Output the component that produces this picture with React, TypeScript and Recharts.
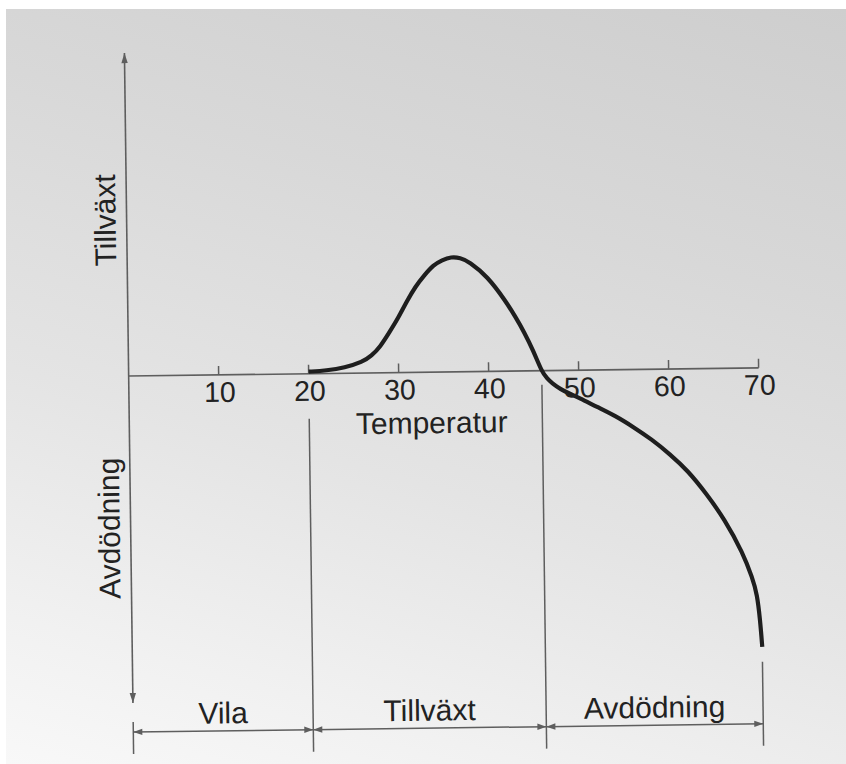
import React from 'react';
import { LineChart, Line, XAxis, YAxis, ReferenceLine, ReferenceDot } from 'recharts';

// ---- data (x: temperature, y: relative growth (+) / die-off (-)) ----
const temperatures = [20, 22, 24, 26, 27, 28, 29, 30, 31, 32, 33, 34, 35, 36, 37, 38, 40, 42, 43, 44, 45, 45.9, 46.5, 47, 48, 49, 50, 52, 54, 56, 58, 60, 62, 64, 66, 68, 69, 69.5, 69.8, 70];
const responses = [2, 3, 5.5, 11, 17, 26, 40, 54, 71, 86, 97, 107, 112, 115, 114, 110, 95, 70, 55, 39, 20, -1, -8, -12.5, -19, -23.5, -27.5, -37, -46, -57.5, -70, -85, -102, -125, -151, -185, -210, -226, -252, -279];

const tickValues = [10, 20, 30, 40, 50, 60, 70];
const tickLabels = ['10', '20', '30', '40', '50', '60', '70'];
const xAxisTitle = 'Temperatur';
const yAxisLabels = ['Tillväxt', 'Avdödning'];
const phaseBounds = [0, 20, 45.9, 70];
const phaseNames = ['Vila', 'Tillväxt', 'Avdödning'];

const data = temperatures.map((t, i) => ({ t, v: responses[i] }));

// ---- layout / style ----
const W = 846;
const H = 764;
const FONT = "'Liberation Sans', Arial, Helvetica, sans-serif";
const FS = 30;
const FS_TICK = 28.5;
const INK = '#222222';
const GRAY = '#5e5e5e';
const Y_DOMAIN: [number, number] = [-380, 324];
const Y_TOP = 323;
const Y_BOTTOM = -327;
const TICK_LEN = 9;
const ARROW_Y = -356;
const PHASE_LABEL_Y = -348.5;
const TITLE_X = 33.6;
const TITLE_Y = -61;
const Y_LABEL_POS = [156, -152];
const DIVIDER_TOPS = [-346, -45, -14, -294];
const DIVIDER_BOTTOM = -378;

function arrowShape(startHead: boolean, endHead: boolean, len: number, half: number, stroke: string, width: number) {
  return (p: any) => {
    const { x1, y1, x2, y2 } = p;
    const dx = x2 - x1;
    const dy = y2 - y1;
    const L = Math.hypot(dx, dy) || 1;
    const ux = dx / L;
    const uy = dy / L;
    const head = (tx: number, ty: number, dirx: number, diry: number) => {
      const bx = tx - dirx * len;
      const by = ty - diry * len;
      const px = -diry * half;
      const py = dirx * half;
      return <polygon points={`${tx},${ty} ${bx + px},${by + py} ${bx - px},${by - py}`} fill={stroke} />;
    };
    return (
      <g>
        <line x1={x1} y1={y1} x2={x2} y2={y2} stroke={stroke} strokeWidth={width} />
        {startHead && head(x1, y1, -ux, -uy)}
        {endHead && head(x2, y2, ux, uy)}
      </g>
    );
  };
}

const textShape = (label: string, dx: number, dy: number, size: number) => (p: any) => (
  <text x={p.cx + dx} y={p.cy + dy} textAnchor="middle" fontFamily={FONT} fontSize={size} fill={INK}>
    {label}
  </text>
);

const rotatedTextShape = (label: string, dx: number) => (p: any) => {
  const x = p.cx + dx;
  const y = p.cy;
  return (
    <text x={x} y={y} transform={`rotate(-90 ${x} ${y})`} textAnchor="middle" fontFamily={FONT} fontSize={FS} fill={INK}>
      {label}
    </text>
  );
};

export default function App() {
  return (
    <div style={{ position: 'absolute', left: 0, top: 0, width: W, height: H, background: '#ffffff', overflow: 'hidden' }}>
      <div
        style={{
          position: 'absolute',
          left: 6,
          top: 9,
          width: W - 6,
          height: H - 9,
          background: 'linear-gradient(196deg, #cecece 0%, #d8d8d8 30%, #e4e4e4 60%, #f1f1f1 85%, #f8f8f8 100%)',
        }}
      />
      <div style={{ position: 'absolute', left: 0, top: 0, transform: 'rotate(-0.75deg)', transformOrigin: '440px 400px' }}>
        <LineChart width={W} height={H} data={data} margin={{ top: 48, right: 87, bottom: 12, left: 129 }}>
          <XAxis type="number" dataKey="t" domain={[0, 70]} hide />
          <YAxis type="number" domain={Y_DOMAIN} hide />

          {/* y axis with arrows */}
          <ReferenceLine
            segment={[{ x: 0, y: Y_TOP }, { x: 0, y: Y_BOTTOM }]}
            shape={arrowShape(true, true, 10, 3.2, GRAY, 1.6)}
          />
          {/* x axis */}
          <ReferenceLine segment={[{ x: 0, y: 0 }, { x: 70, y: 0 }]} stroke={GRAY} strokeWidth={1.6} />
          {tickValues.map((t) => (
            <ReferenceLine key={`tk${t}`} segment={[{ x: t, y: 0 }, { x: t, y: TICK_LEN }]} stroke={GRAY} strokeWidth={1.5} />
          ))}
          {tickValues.map((t, i) => (
            <ReferenceDot key={`tl${t}`} x={t} y={0} r={0} shape={textShape(tickLabels[i], 1, 27, FS_TICK)} />
          ))}
          <ReferenceDot x={TITLE_X} y={TITLE_Y} r={0} shape={textShape(xAxisTitle, 0, 0, FS)} />

          {yAxisLabels.map((lab, i) => (
            <ReferenceDot key={`yl${i}`} x={0} y={Y_LABEL_POS[i]} r={0} shape={rotatedTextShape(lab, -11)} />
          ))}

          {/* phase dividers */}
          {phaseBounds.map((b, i) => (
            <ReferenceLine
              key={`dv${i}`}
              segment={[{ x: b, y: DIVIDER_TOPS[i] }, { x: b, y: DIVIDER_BOTTOM }]}
              stroke={GRAY}
              strokeWidth={1.5}
            />
          ))}
          {/* phase arrows and names */}
          {phaseNames.map((name, i) => (
            <ReferenceLine
              key={`pa${i}`}
              segment={[{ x: phaseBounds[i], y: ARROW_Y }, { x: phaseBounds[i + 1], y: ARROW_Y }]}
              shape={arrowShape(true, true, 9, 3.2, GRAY, 1.5)}
            />
          ))}
          {phaseNames.map((name, i) => (
            <ReferenceDot
              key={`pn${i}`}
              x={(phaseBounds[i] + phaseBounds[i + 1]) / 2}
              y={PHASE_LABEL_Y}
              r={0}
              shape={textShape(name, 0, 0, FS)}
            />
          ))}

          <Line
            type="basis"
            dataKey="v"
            stroke="#1e1e1e"
            strokeWidth={4.2}
            dot={false}
            activeDot={false}
            isAnimationActive={false}
          />
        </LineChart>
      </div>
    </div>
  );
}
